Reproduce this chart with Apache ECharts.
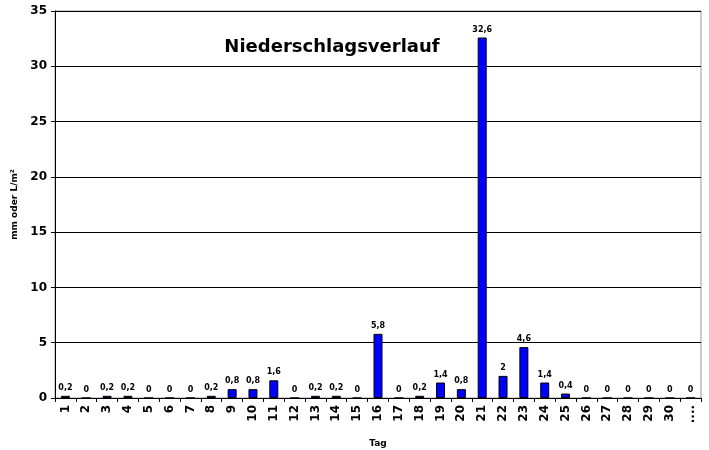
<!DOCTYPE html>
<html>
<head>
<meta charset="utf-8">
<script src="https://cdn.jsdelivr.net/npm/echarts@6/dist/echarts.min.js"></script>
<style>
  html, body { margin: 0; padding: 0; background: #fff; }
  #chart { width: 709px; height: 450px; }
</style>
</head>
<body>
<div id="chart"></div>
<script>
// Tage (Kategorien)
const days = ['1','2','3','4','5','6','7','8','9','10','11','12','13','14','15','16',
  '17','18','19','20','21','22','23','24','25','26','27','28','29','30','....'];
// Niederschlag in mm
const rain = [0.2, 0, 0.2, 0.2, 0, 0, 0, 0.2, 0.8, 0.8, 1.6, 0, 0.2, 0.2, 0, 5.8,
  0, 0.2, 1.4, 0.8, 32.6, 2, 4.6, 1.4, 0.4, 0, 0, 0, 0, 0, 0];
const yTicks = [0, 5, 10, 15, 20, 25, 30, 35];

const font = 'Verdana, "DejaVu Sans", sans-serif';
const chart = echarts.init(document.getElementById('chart'), null, { renderer: 'canvas' });

chart.setOption({
  animation: false,
  textStyle: { fontFamily: font },
  title: {
    text: 'Niederschlagsverlauf',
    left: 327, top: 33,
    textAlign: 'center',
    textStyle: { fontFamily: font, fontSize: 18, fontWeight: 'bold', color: '#000' }
  },
  grid: {
    left: 55, right: 8, top: 11, bottom: 52,
    containLabel: false,
    outerBoundsMode: 'none',
    show: true, borderColor: '#999', borderWidth: 1
  },
  xAxis: {
    type: 'category',
    data: days,
    name: 'Tag',
    nameLocation: 'middle',
    nameGap: 41,
    nameTextStyle: { fontFamily: font, fontSize: 9, fontWeight: 'bold', color: '#000' },
    axisLine: { lineStyle: { color: '#000' } },
    axisTick: { show: true, alignWithLabel: false, length: 4, lineStyle: { color: '#000' } },
    axisLabel: {
      interval: 0, rotate: 90, margin: 7,
      fontFamily: font, fontSize: 12, fontWeight: 'bold', color: '#000'
    }
  },
  yAxis: {
    type: 'value',
    min: 0, max: 35, interval: 5,
    name: 'mm oder L/m²',
    nameLocation: 'middle',
    nameGap: 36,
    nameTextStyle: { fontFamily: font, fontSize: 9, fontWeight: 'bold', color: '#000' },
    axisLine: { show: true, lineStyle: { color: '#000' } },
    axisTick: { show: true, length: 4, lineStyle: { color: '#000' } },
    axisLabel: {
      fontFamily: font, fontSize: 12, fontWeight: 'bold', color: '#000', margin: 8,
      formatter: v => yTicks.includes(v) ? String(v) : ''
    },
    splitLine: { lineStyle: { color: '#000', width: 1 } }
  },
  series: [{
    type: 'bar',
    data: rain,
    barWidth: 9,
    itemStyle: { color: '#0000ff', borderColor: '#000', borderWidth: 1 },
    label: {
      show: true, position: 'top', distance: 4,
      fontFamily: font, fontSize: 8, fontWeight: 'bold', color: '#000',
      formatter: p => String(p.value).replace('.', ',')
    }
  }]
});
</script>
</body>
</html>
